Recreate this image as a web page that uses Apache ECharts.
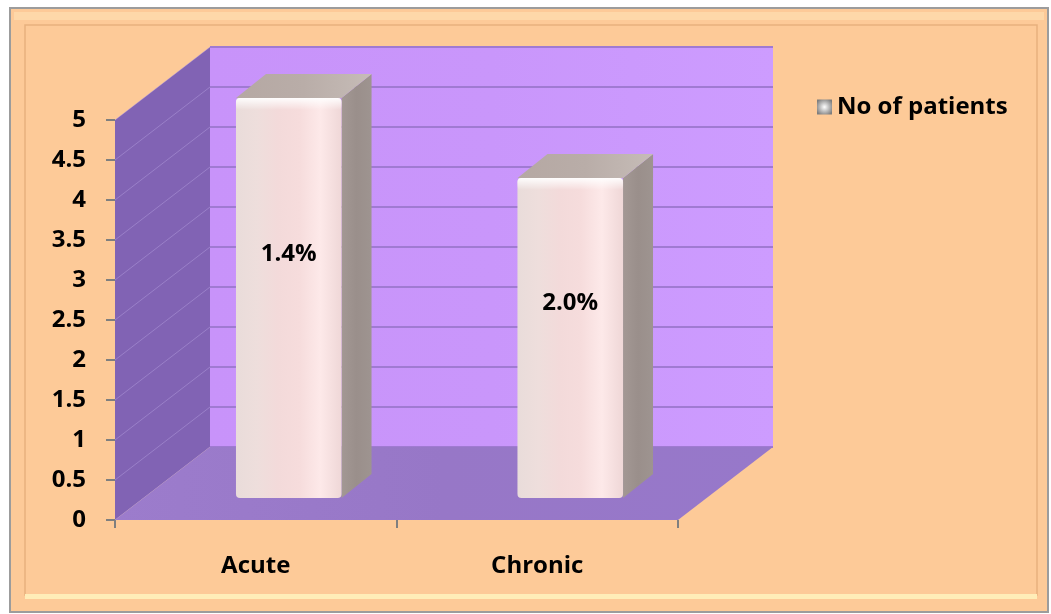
<!DOCTYPE html>
<html>
<head>
<meta charset="utf-8">
<script src="https://cdn.jsdelivr.net/npm/echarts@6/dist/echarts.min.js"></script>
<style>
  html, body { margin: 0; padding: 0; background: #ffffff; }
  #chart { width: 1051px; height: 614px; }
</style>
</head>
<body>
<div id="chart"></div>
<script>
// Patients by type of presentation
const categories = ['Acute', 'Chronic'];
const patients = [5, 4];
const shareLabels = ['1.4%', '2.0%'];
const yTicks = [0, 0.5, 1, 1.5, 2, 2.5, 3, 3.5, 4, 4.5, 5];
const seriesName = 'No of patients';

const FONT = '"Open Sans", Lato, sans-serif';
const FONT_SIZE = 24;
const WALL = [95, -73];       // offset from the front plane to the back wall
const BAR_FRONT = [33, -22];  // offset of each bar's front face
const BAR_DEPTH = [30, -24];  // thickness of each bar
const BAR_WIDTH = 0.375;      // bar width as a share of the category band

const lin = (x1, y1, x2, y2, stops) => new echarts.graphic.LinearGradient(x1, y1, x2, y2,
  stops.map((c, i) => ({ offset: i / (stops.length - 1), color: c })));

// Back wall, side wall and floor of the 3-D plot box
function renderWalls(params, api) {
  const band = api.size([1, 0])[0];
  const origin = api.coord([0, 0]);
  const left = origin[0] - band / 2;
  const right = api.coord([categories.length - 1, 0])[0] + band / 2;
  const y0 = origin[1];
  const yTop = api.coord([0, yTicks[yTicks.length - 1]])[1];
  const [dx, dy] = WALL;
  const children = [];

  children.push({
    type: 'polygon',
    shape: { points: [[left + dx, yTop + dy], [right + dx, yTop + dy], [right + dx, y0 + dy], [left + dx, y0 + dy]] },
    style: { fill: lin(0, 0, 1, 0, ['#C893FA', '#C996FB', '#CD9CFF']) }
  });
  yTicks.forEach(v => {
    const y = api.coord([0, v])[1] + dy;
    children.push({
      type: 'line',
      shape: { x1: left + dx, y1: y, x2: right + dx, y2: y },
      style: { stroke: '#A07AD2', lineWidth: 2 }
    });
  });

  children.push({
    type: 'polygon',
    shape: { points: [[left, yTop], [left + dx, yTop + dy], [left + dx, y0 + dy], [left, y0]] },
    style: { fill: '#8163B4' }
  });
  yTicks.forEach(v => {
    const y = api.coord([0, v])[1];
    children.push({
      type: 'line',
      shape: { x1: left, y1: y, x2: left + dx, y2: y + dy },
      style: { stroke: 'rgba(190,170,230,0.4)', lineWidth: 1 }
    });
  });

  children.push({
    type: 'polygon',
    shape: { points: [[left, y0], [right, y0], [right + dx, y0 + dy], [left + dx, y0 + dy]] },
    style: { fill: lin(0, 0, 1, 0, ['#9C7CCC', '#9777C7', '#9778CA']) }
  });
  return { type: 'group', children };
}

// One 3-D box per category, with its share label on the front face
function renderBar(params, api) {
  const i = api.value(0);
  const top = api.coord([i, api.value(1)]);
  const bottom = api.coord([i, 0]);
  const w = api.size([1, 0])[0] * BAR_WIDTH;
  const x0 = top[0] - w / 2 + BAR_FRONT[0];
  const x1 = x0 + w;
  const yT = top[1] + BAR_FRONT[1];
  const yB = bottom[1] + BAR_FRONT[1];
  const [ddx, ddy] = BAR_DEPTH;
  return {
    type: 'group',
    children: [
      {
        type: 'polygon',
        shape: { points: [[x1, yT], [x1 + ddx, yT + ddy], [x1 + ddx, yB + ddy], [x1, yB]] },
        style: { fill: lin(0, 0, 1, 0, ['#A39894', '#9A8F8B', '#9E9490']) }
      },
      {
        type: 'polygon',
        shape: { points: [[x0, yT], [x1, yT], [x1 + ddx, yT + ddy], [x0 + ddx, yT + ddy]] },
        style: { fill: lin(0, 0, 1, 0, ['#B5A8A3', '#B9ADA8', '#C6BCB7']) }
      },
      {
        type: 'rect',
        shape: { x: x0, y: yT, width: w, height: yB - yT, r: 4 },
        style: { fill: lin(0, 0, 1, 0, ['#E9DCDA', '#EEDEDC', '#F3DADA', '#F6DCDC', '#FDE9E9', '#EFD7D7']) }
      },
      {
        type: 'rect',
        shape: { x: x0, y: yT, width: w, height: 12, r: 4 },
        style: { fill: lin(0, 0, 0, 1, ['rgba(255,255,255,0.95)', 'rgba(255,255,255,0)']) }
      },
      {
        type: 'text',
        style: {
          text: shareLabels[i],
          x: (x0 + x1) / 2,
          y: yT + (yB - yT) * 0.39,
          align: 'center',
          verticalAlign: 'middle',
          font: 'bold ' + FONT_SIZE + 'px ' + FONT,
          fill: '#000000'
        }
      }
    ]
  };
}

const chart = echarts.init(document.getElementById('chart'), null, { renderer: 'canvas' });

chart.setOption({
  backgroundColor: '#ffffff',
  animation: false,
  graphic: [
    {
      type: 'rect', z: 0,
      shape: { x: 10, y: 8, width: 1038, height: 604 },
      style: { fill: '#FDCA98', stroke: '#9C9C9C', lineWidth: 2 }
    },
    {
      type: 'rect', z: 0,
      shape: { x: 14, y: 12, width: 1030, height: 8 },
      style: { fill: 'rgba(255,225,180,0.6)' }
    },
    {
      type: 'rect', z: 0,
      shape: { x: 25, y: 25, width: 1012, height: 570 },
      style: { fill: 'none', stroke: '#E7B17E', lineWidth: 1.5 }
    },
    {
      type: 'rect', z: 0,
      shape: { x: 25, y: 594, width: 1012, height: 5 },
      style: { fill: '#FFEDB8' }
    }
  ],
  grid: { left: 115, right: 373, top: 120, bottom: 94 },
  legend: {
    data: [{ name: seriesName, icon: 'rect' }],
    left: 812,
    top: 90,
    itemWidth: 15,
    itemHeight: 15,
    selectedMode: false,
    textStyle: { fontFamily: FONT, fontWeight: 'bold', fontSize: FONT_SIZE, color: '#000000' }
  },
  xAxis: {
    type: 'category',
    data: categories,
    boundaryGap: true,
    axisLine: { show: false },
    axisTick: { show: true, length: 8, lineStyle: { color: '#7F7F7F', width: 2 } },
    axisLabel: { margin: 34, fontFamily: FONT, fontWeight: 'bold', fontSize: FONT_SIZE, color: '#000000' }
  },
  yAxis: {
    type: 'value',
    min: 0,
    max: 5,
    interval: 0.5,
    axisLine: { show: false },
    axisTick: { show: true, length: 9, lineStyle: { color: '#7F7F7F', width: 2 } },
    splitLine: { show: false },
    axisLabel: { margin: 29, fontFamily: FONT, fontWeight: 'bold', fontSize: FONT_SIZE, color: '#000000' }
  },
  series: [
    {
      type: 'custom',
      name: 'walls',
      silent: true,
      clip: false,
      z: 1,
      renderItem: renderWalls,
      data: [[0, 0]]
    },
    {
      type: 'custom',
      name: seriesName,
      clip: false,
      z: 3,
      itemStyle: {
        color: new echarts.graphic.RadialGradient(0.5, 0.5, 0.6, [
          { offset: 0, color: '#FFFFFF' },
          { offset: 1, color: '#7D7D7D' }
        ])
      },
      renderItem: renderBar,
      data: patients.map((v, i) => [i, v])
    }
  ]
});
</script>
</body>
</html>
